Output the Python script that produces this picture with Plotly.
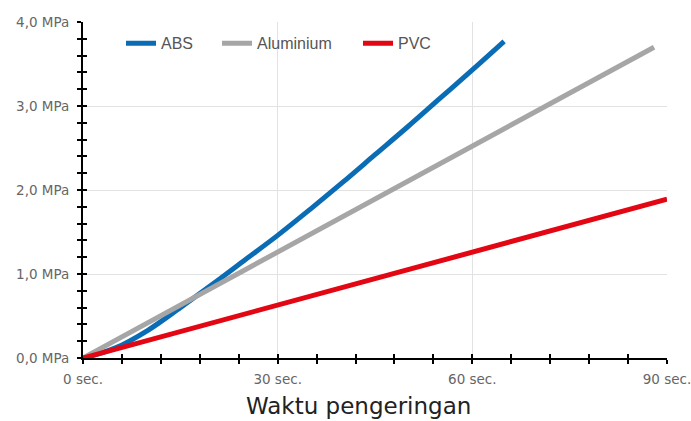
import plotly.graph_objects as go

# Data
abs_x = [0, 5, 10, 15, 20, 25, 30, 35, 40, 45, 50, 55, 60, 64.9]
abs_y = [0, 0.12, 0.33, 0.60, 0.88, 1.17, 1.46, 1.77, 2.09, 2.42, 2.75, 3.09, 3.43, 3.77]
alu_x = [0, 88]
alu_y = [0, 3.70]
pvc_x = [0, 90]
pvc_y = [0, 1.89]

x_tickvals = [0, 30, 60, 90]
x_ticktext = ["0 sec.", "30 sec.", "60 sec.", "90 sec."]
y_tickvals = [0, 1, 2, 3, 4]
y_ticktext = ["0,0 MPa", "1,0 MPa", "2,0 MPa", "3,0 MPa", "4,0 MPa"]
x_range = [0, 90]
y_range = [0, 4]
x_title = "Waktu pengeringan"

fig = go.Figure()
fig.add_trace(go.Scatter(x=abs_x, y=abs_y, mode="lines", name="ABS", legend="legend",
                         line=dict(color="#0a6cb5", width=5, shape="spline")))
fig.add_trace(go.Scatter(x=alu_x, y=alu_y, mode="lines", name="Aluminium", legend="legend2",
                         line=dict(color="#a6a6a6", width=5)))
fig.add_trace(go.Scatter(x=pvc_x, y=pvc_y, mode="lines", name="PVC", legend="legend3",
                         line=dict(color="#e30613", width=5),
                         xaxis="x2", yaxis="y2"))

tickfont = dict(family="DejaVu Sans, sans-serif", size=13.5, color="#666666")

common_x = dict(range=x_range, tickvals=x_tickvals, linecolor="black", linewidth=2,
                tickcolor="black", tickwidth=2, ticklen=4, zeroline=False, fixedrange=True,
                automargin=False)
common_y = dict(range=y_range, tickvals=y_tickvals, linecolor="black", linewidth=2,
                tickcolor="black", tickwidth=2, ticklen=4, zeroline=False, fixedrange=True,
                automargin=False)

legend_common = dict(orientation="h", yanchor="middle", xanchor="left", y=0.9366,
                     font=dict(family="Liberation Sans, Arial, sans-serif", size=16, color="#555555"),
                     bgcolor="rgba(0,0,0,0)", itemwidth=30)

fig.update_layout(
    width=691, height=421,
    margin=dict(l=83, r=24, t=22, b=63),
    paper_bgcolor="white", plot_bgcolor="white",
    font=dict(family="DejaVu Sans, sans-serif"),
    xaxis=dict(**common_x, ticktext=x_ticktext, ticks="outside", showline=True,
               showgrid=True, gridcolor="#e2e2e2", gridwidth=1, tickfont=tickfont,
               ticklabelstandoff=4, ticklabeloverflow="allow",
               minor=dict(dtick=6, ticks="outside", ticklen=4, tickwidth=2, tickcolor="black", showgrid=False)),
    yaxis=dict(**common_y, ticktext=y_ticktext, ticks="outside", showline=True,
               showgrid=True, gridcolor="#e2e2e2", gridwidth=1, tickfont=tickfont,
               ticklabelstandoff=5, ticklabeloverflow="allow",
               minor=dict(dtick=0.2, ticks="outside", ticklen=4, tickwidth=2, tickcolor="black", showgrid=False)),
    xaxis2=dict(**common_x, overlaying="x", ticks="inside", showline=False, showgrid=False,
                showticklabels=False, minor=dict(dtick=6, ticks="inside", ticklen=4, tickwidth=2, tickcolor="black")),
    yaxis2=dict(**common_y, overlaying="y", ticks="inside", showline=False, showgrid=False,
                showticklabels=False, minor=dict(dtick=0.2, ticks="inside", ticklen=4, tickwidth=2, tickcolor="black")),
    legend=dict(**legend_common, x=0.0651),
    legend2=dict(**legend_common, x=0.2295),
    legend3=dict(**legend_common, x=0.4709),
    showlegend=True,
    hovermode=False,
    annotations=[dict(text=x_title, xref="paper", yref="paper", x=0.4726, y=-0.1429,
                      xanchor="center", yanchor="middle", showarrow=False,
                      font=dict(family="DejaVu Sans, sans-serif", size=23, color="#222222"))],
)

# remove the browser's default 8px body margin so the figure fills the window exactly
fig.write_html("out.html", config={"displayModeBar": False},
               post_script="document.body.style.margin='0';document.body.style.overflow='hidden';")
